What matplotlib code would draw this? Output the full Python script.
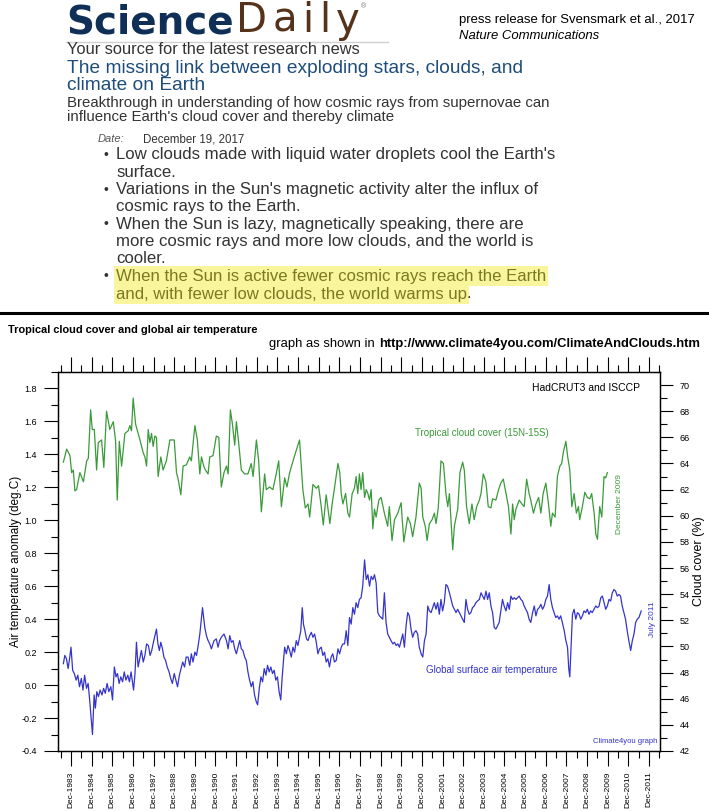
import numpy as np
import matplotlib.pyplot as plt
from matplotlib import font_manager

# tropical cloud cover 15N-15S (ISCCP), %
cloud_year = [
    1983.55, 1983.71, 1983.87, 1983.95, 1984.03, 1984.11, 1984.19, 1984.35, 1984.52, 1984.68,
    1984.76, 1984.87, 1984.95, 1985.05, 1985.16, 1985.24, 1985.40, 1985.51, 1985.64, 1985.80,
    1985.97, 1986.08, 1986.16, 1986.26, 1986.37, 1986.53, 1986.69, 1986.77, 1986.85, 1986.93,
    1987.05, 1987.26, 1987.42, 1987.50, 1987.58, 1987.66, 1987.74, 1987.82, 1987.90, 1987.98,
    1988.06, 1988.14, 1988.27, 1988.38, 1988.54, 1988.71, 1988.92, 1989.03, 1989.11, 1989.24,
    1989.35, 1989.51, 1989.67, 1989.75, 1989.92, 1990.04, 1990.16, 1990.24, 1990.35, 1990.43,
    1990.56, 1990.64, 1990.80, 1990.96, 1991.08, 1991.20, 1991.33, 1991.45, 1991.53, 1991.64,
    1991.74, 1991.85, 1991.93, 1992.04, 1992.17, 1992.33, 1992.49, 1992.65, 1992.74, 1992.90,
    1993.01, 1993.14, 1993.30, 1993.38, 1993.54, 1993.70, 1993.86, 1993.98, 1994.11, 1994.27,
    1994.38, 1994.51, 1994.62, 1994.83, 1994.99, 1995.15, 1995.27, 1995.40, 1995.48, 1995.64,
    1995.80, 1995.91, 1996.04, 1996.14, 1996.28, 1996.36, 1996.46, 1996.57, 1996.69, 1996.85,
    1996.94,
    1997.01, 1997.09, 1997.22, 1997.33, 1997.41, 1997.54, 1997.65, 1997.73, 1997.81, 1997.89,
    1997.97, 1998.05, 1998.14, 1998.22, 1998.30, 1998.38, 1998.46, 1998.54, 1998.62, 1998.70,
    1998.83, 1998.94, 1999.10, 1999.26, 1999.34, 1999.47, 1999.59, 1999.75, 1999.91, 2000.04,
    2000.23, 2000.36, 2000.47, 2000.63, 2000.79, 2000.88, 2000.96, 2001.08, 2001.17, 2001.28,
    2001.41, 2001.52, 2001.60, 2001.71, 2001.84, 2001.96, 2002.08, 2002.17, 2002.25, 2002.41,
    2002.49, 2002.65, 2002.76, 2002.89, 2002.97, 2003.08, 2003.21, 2003.34, 2003.45, 2003.57,
    2003.70, 2003.78, 2003.89, 2004.02, 2004.13, 2004.26, 2004.34, 2004.50, 2004.63, 2004.74,
    2004.86, 2004.99, 2005.11, 2005.23, 2005.31, 2005.39, 2005.47, 2005.63, 2005.76, 2005.87,
    2005.99, 2006.11, 2006.19, 2006.32, 2006.44, 2006.57, 2006.68, 2006.79, 2006.92, 2007.05,
    2007.16, 2007.24, 2007.37, 2007.48, 2007.60, 2007.69, 2007.76, 2007.89, 2007.98, 2008.08,
    2008.18, 2008.29, 2008.40, 2008.50, 2008.56, 2008.69, 2008.81, 2008.93, 2009.05, 2009.14,
    2009.26, 2009.34, 2009.42, 2009.53, 2009.63, 2009.74, 2009.82, 2009.90]
cloud_pct = [
    64.1, 65.1, 64.6, 63.3, 63.5, 61.9, 62.0, 63.3, 62.6, 64.2,
    64.4, 68.1, 66.6, 66.6, 63.5, 65.6, 65.8, 63.7, 68.0, 66.6,
    67.2, 65.7, 61.2, 65.7, 63.8, 66.3, 66.5, 66.9, 66.5, 69.0,
    67.0, 65.8, 64.8, 64.5, 63.8, 66.6, 65.6, 66.3, 65.3, 66.1,
    66.0, 63.0, 64.5, 63.5, 64.2, 65.8, 65.8, 63.3, 62.8, 61.6,
    63.8, 63.9, 64.5, 64.2, 66.9, 65.8, 63.2, 64.5, 63.8, 63.5,
    63.2, 64.5, 64.6, 66.1, 66.0, 62.2, 63.3, 63.8, 63.2, 68.1,
    67.0, 65.4, 67.2, 65.6, 63.5, 63.2, 63.2, 64.0, 63.0, 65.8,
    64.2, 60.3, 63.2, 62.0, 62.2, 62.0, 63.2, 64.2, 60.7, 62.9,
    62.2, 63.3, 63.9, 65.0, 65.8, 62.0, 60.6, 60.9, 59.9, 62.4,
    62.1, 62.3, 60.7, 59.3, 61.6, 60.6, 59.4, 60.9, 62.2, 64.0,
    63.3,
    61.7, 60.9, 61.7, 60.2, 59.9, 61.7, 62.1, 63.0, 61.7, 63.2,
    62.0, 63.3, 61.4, 62.0, 61.7, 61.2, 62.0, 59.0, 60.5, 59.9,
    61.2, 61.4, 60.2, 59.2, 60.7, 58.1, 59.7, 60.2, 61.0, 58.0,
    59.9, 59.4, 58.4, 59.9, 62.5, 62.1, 59.9, 59.2, 58.1, 59.4,
    59.7, 60.2, 59.4, 60.6, 64.2, 64.0, 61.7, 60.7, 61.7, 57.4,
    59.2, 60.5, 63.3, 64.1, 63.5, 60.7, 59.4, 60.9, 59.7, 60.7,
    61.2, 61.7, 63.2, 62.6, 60.7, 60.6, 61.3, 61.2, 62.0, 62.5,
    62.8, 61.7, 60.7, 58.6, 60.9, 59.7, 60.5, 61.2, 60.9, 60.7,
    62.8, 61.7, 61.2, 60.2, 60.9, 61.4, 60.2, 61.7, 62.5, 60.9,
    59.2, 60.2, 59.9, 63.0, 63.8, 64.0, 64.8, 65.7, 64.5, 63.5,
    60.7, 61.7, 60.2, 60.7, 59.7, 60.7, 61.8, 61.4, 61.3, 61.7,
    60.2, 58.6, 58.2, 60.7, 59.9, 63.0, 62.9, 63.3]

# global surface air temperature anomaly (HadCRUT3), deg C
temp_year = [
    1983.55, 1983.62, 1983.70, 1983.78, 1983.86, 1983.92, 1984.00, 1984.08, 1984.17, 1984.25,
    1984.33, 1984.42, 1984.50, 1984.58, 1984.67, 1984.75, 1984.83, 1984.96, 1985.04, 1985.10,
    1985.17, 1985.25, 1985.33, 1985.42, 1985.50, 1985.58, 1985.67, 1985.75, 1985.85, 1985.93,
    1986.02, 1986.10, 1986.17, 1986.25, 1986.33, 1986.42, 1986.50, 1986.58, 1986.67, 1986.75,
    1986.83, 1986.95, 1987.02, 1987.09, 1987.17, 1987.25, 1987.33, 1987.42, 1987.50, 1987.58,
    1987.67, 1987.75, 1987.83, 1987.93, 1988.06, 1988.13, 1988.20, 1988.27, 1988.35, 1988.42,
    1988.50, 1988.58, 1988.67, 1988.75, 1988.83, 1988.92, 1989.00, 1989.08, 1989.17, 1989.25,
    1989.33, 1989.42, 1989.50, 1989.59, 1989.67, 1989.75, 1989.83, 1989.92, 1990.00, 1990.08,
    1990.16, 1990.29, 1990.40, 1990.48, 1990.56, 1990.64, 1990.72, 1990.85, 1990.96, 1991.04,
    1991.12, 1991.20, 1991.33, 1991.45, 1991.53, 1991.61, 1991.69, 1991.77, 1991.85, 1991.93,
    1992.01, 1992.09, 1992.17, 1992.25, 1992.33, 1992.41, 1992.49, 1992.57, 1992.65, 1992.73,
    1992.81, 1992.89, 1992.96, 1993.04, 1993.12, 1993.20, 1993.28, 1993.36, 1993.44, 1993.52,
    1993.60, 1993.68, 1993.76, 1993.84, 1993.92, 1994.00, 1994.08, 1994.15, 1994.22, 1994.27,
    1994.35, 1994.43, 1994.51, 1994.59, 1994.67, 1994.75, 1994.83, 1994.91, 1994.99, 1995.05,
    1995.12, 1995.18, 1995.25, 1995.33, 1995.40, 1995.48, 1995.56, 1995.64, 1995.72, 1995.80,
    1995.88, 1995.96, 1996.04, 1996.12, 1996.20, 1996.28, 1996.36, 1996.44, 1996.52, 1996.60,
    1996.68, 1996.77, 1996.85, 1996.93, 1997.01, 1997.09, 1997.17, 1997.25, 1997.33, 1997.41,
    1997.49, 1997.57, 1997.65, 1997.73, 1997.81, 1997.89, 1997.97, 1998.05, 1998.14, 1998.22,
    1998.30, 1998.38, 1998.46, 1998.54, 1998.62, 1998.70, 1998.78, 1998.86, 1998.94, 1999.02,
    1999.10, 1999.18, 1999.26, 1999.34, 1999.42, 1999.51, 1999.59, 1999.67, 1999.75, 1999.83,
    1999.91, 1999.99, 2000.07, 2000.15, 2000.23, 2000.31, 2000.39, 2000.47, 2000.55, 2000.63,
    2000.71, 2000.79, 2000.88, 2000.96, 2001.04, 2001.12, 2001.20, 2001.28, 2001.36, 2001.44,
    2001.52, 2001.60, 2001.68, 2001.76, 2001.84, 2001.92, 2002.00, 2002.08, 2002.16, 2002.25,
    2002.33, 2002.41, 2002.49, 2002.57, 2002.65, 2002.73, 2002.81, 2002.89, 2002.97, 2003.05,
    2003.13, 2003.21, 2003.29, 2003.37, 2003.45, 2003.53, 2003.61, 2003.70, 2003.78, 2003.86,
    2003.94, 2004.02, 2004.10, 2004.18, 2004.26, 2004.34, 2004.42, 2004.50, 2004.58, 2004.66,
    2004.74, 2004.82, 2004.90, 2004.99, 2005.07, 2005.15, 2005.23, 2005.31, 2005.39, 2005.47,
    2005.55, 2005.63, 2005.71, 2005.79, 2005.87, 2005.95, 2006.03, 2006.11, 2006.19, 2006.28,
    2006.36, 2006.44, 2006.52, 2006.60, 2006.68, 2006.76, 2006.84, 2006.92, 2007.00, 2007.08,
    2007.16, 2007.24, 2007.32, 2007.40, 2007.48, 2007.56, 2007.64, 2007.72, 2007.81, 2007.89,
    2007.97, 2008.03, 2008.08, 2008.13, 2008.21, 2008.29, 2008.37, 2008.45, 2008.53, 2008.61,
    2008.69, 2008.77, 2008.85, 2008.93, 2009.01, 2009.09, 2009.17, 2009.25, 2009.34, 2009.42,
    2009.50, 2009.58, 2009.66, 2009.74, 2009.82, 2009.90, 2009.98, 2010.06, 2010.14, 2010.22,
    2010.30, 2010.38, 2010.46, 2010.54, 2010.62, 2010.70, 2010.78, 2010.86, 2010.94, 2011.03,
    2011.11, 2011.19, 2011.27, 2011.35, 2011.43, 2011.54]
temp_anom = [
    0.13, 0.18, 0.16, 0.10, 0.17, 0.23, 0.09, 0.07, 0.03, 0.06,
    -0.01, 0.04, -0.03, 0.06, -0.02, 0.01, -0.10, -0.30, -0.06, -0.14,
    -0.04, -0.07, -0.03, -0.06, -0.02, -0.05, 0.01, -0.04, -0.01, -0.09,
    0.11, 0.05, 0.07, 0.01, 0.05, 0.02, 0.08, 0.03, 0.06, 0.02,
    0.08, -0.03, 0.07, 0.26, 0.11, 0.16, 0.21, 0.14, 0.18, 0.25,
    0.24, 0.18, 0.21, 0.27, 0.34, 0.25, 0.21, 0.26, 0.22, 0.17,
    0.15, 0.11, 0.08, 0.04, 0.01, 0.07, 0.03, -0.01, 0.06, 0.10,
    0.14, 0.11, 0.17, 0.17, 0.12, 0.19, 0.14, 0.20, 0.18, 0.24,
    0.31, 0.47, 0.35, 0.30, 0.27, 0.25, 0.22, 0.27, 0.28, 0.23,
    0.27, 0.29, 0.31, 0.27, 0.22, 0.30, 0.26, 0.27, 0.22, 0.19,
    0.23, 0.27, 0.22, 0.21, 0.17, 0.15, 0.08, 0.03, -0.01, 0.02,
    -0.06, -0.10, -0.12, -0.02, 0.05, 0.02, 0.10, 0.06, 0.12, 0.08,
    0.11, 0.07, 0.09, 0.03, 0.05, -0.04, -0.09, 0.05, 0.16, 0.23,
    0.19, 0.24, 0.21, 0.17, 0.23, 0.20, 0.27, 0.24, 0.29, 0.33,
    0.47, 0.37, 0.33, 0.28, 0.27, 0.30, 0.32, 0.29, 0.31, 0.26,
    0.19, 0.22, 0.23, 0.18, 0.20, 0.14, 0.16, 0.11, 0.17, 0.19,
    0.14, 0.15, 0.22, 0.19, 0.23, 0.25, 0.25, 0.33, 0.24, 0.41,
    0.37, 0.47, 0.43, 0.50, 0.47, 0.52, 0.53, 0.60, 0.76, 0.64,
    0.67, 0.60, 0.66, 0.64, 0.67, 0.62, 0.44, 0.42, 0.41, 0.40,
    0.56, 0.38, 0.31, 0.29, 0.27, 0.25, 0.26, 0.24, 0.25, 0.23,
    0.27, 0.31, 0.23, 0.36, 0.44, 0.42, 0.34, 0.29, 0.32, 0.33,
    0.31, 0.23, 0.19, 0.17, 0.27, 0.31, 0.48, 0.45, 0.44, 0.47,
    0.50, 0.46, 0.50, 0.43, 0.52, 0.45, 0.50, 0.61, 0.60, 0.56,
    0.52, 0.48, 0.46, 0.44, 0.46, 0.44, 0.42, 0.40, 0.38, 0.52,
    0.46, 0.43, 0.44, 0.47, 0.48, 0.50, 0.51, 0.52, 0.56, 0.54,
    0.52, 0.57, 0.52, 0.56, 0.48, 0.44, 0.35, 0.34, 0.36, 0.38,
    0.45, 0.52, 0.48, 0.45, 0.50, 0.46, 0.54, 0.52, 0.53, 0.52,
    0.53, 0.54, 0.52, 0.51, 0.48, 0.46, 0.44, 0.40, 0.38, 0.44,
    0.48, 0.42, 0.46, 0.47, 0.49, 0.46, 0.48, 0.52, 0.54, 0.61,
    0.52, 0.47, 0.44, 0.41, 0.42, 0.40, 0.42, 0.38, 0.33, 0.27,
    0.23, 0.10, 0.05, 0.20, 0.43, 0.46, 0.40, 0.44, 0.43, 0.40,
    0.42, 0.45, 0.44, 0.46, 0.43, 0.45, 0.44, 0.46, 0.48, 0.47,
    0.48, 0.53, 0.54, 0.50, 0.46, 0.48, 0.52, 0.51, 0.56, 0.58,
    0.57, 0.54, 0.55, 0.54, 0.48, 0.44, 0.40, 0.33, 0.27, 0.21,
    0.27, 0.31, 0.38, 0.40, 0.41, 0.45]

tick_years = list(range(1983, 2012))
temp_ticks = [-0.4, -0.2, 0.0, 0.2, 0.4, 0.6, 0.8, 1.0, 1.2, 1.4, 1.6, 1.8]
cloud_ticks = list(range(42, 71, 2))

bullets = [
    ["Low clouds made with liquid water droplets cool the Earth's", "surface."],
    ["Variations in the Sun's magnetic activity alter the influx of", "cosmic rays to the Earth."],
    ["When the Sun is lazy, magnetically speaking, there are",
     "more cosmic rays and more low clouds, and the world is", "cooler."],
]
highlighted = ["When the Sun is active fewer cosmic rays reach the Earth",
               "and, with fewer low clouds, the world warms up"]

W, H = 709, 811
GREEN = '#3a9a3a'
BLUE = '#3434cc'

names = {f.name for f in font_manager.fontManager.ttflist}
SANS = ['Liberation Sans', 'DejaVu Sans']
if 'Liberation Sans Narrow' in names:
    NARROW, squeeze = ['Liberation Sans Narrow', 'Liberation Sans', 'DejaVu Sans'], 1.0
else:
    NARROW, squeeze = SANS, 0.82
plt.rcParams['font.family'] = SANS

fig = plt.figure(figsize=(W / 100, H / 100), dpi=100)

# page layer in pixel coordinates (y down)
bg = fig.add_axes([0, 0, 1, 1])
bg.set_xlim(0, W)
bg.set_ylim(H, 0)
bg.axis('off')

logo = dict(family=['DejaVu Sans'])
t = bg.text(66, 33, 'Science', fontsize=28, fontweight='bold', color='#0f2f57', va='baseline', **logo)
for i, ch in enumerate('Daily'):
    t = bg.annotate(ch, xy=(1, 0), xycoords=t, xytext=(1.5 if i == 0 else 4, 0),
                    textcoords='offset points', fontsize=29, color='#55331a',
                    ha='left', va='bottom', **logo)
bg.annotate('\u00ae', xy=(1, 1), xycoords=t, xytext=(1, -2), textcoords='offset points',
            fontsize=5, color='#777777', ha='left', va='top')
bg.plot([66, 388], [42, 42], color='#d0d0d0', lw=1)

bg.text(459, 20, 'press release for Svensmark et al., 2017', fontsize=11.5 * squeeze,
        family=NARROW, va='center')
bg.text(459, 36, 'Nature Communications', fontsize=11.5 * squeeze, family=NARROW,
        style='italic', va='center')

bg.text(67, 49, 'Your source for the latest research news', fontsize=11.8, color='#333333', va='center')
bg.text(67, 68.5, 'The missing link between exploding stars, clouds, and', fontsize=13.8,
        color='#1e4d7b', va='center')
bg.text(67, 85.5, 'climate on Earth', fontsize=13.8, color='#1e4d7b', va='center')
bg.text(67, 102.5, 'Breakthrough in understanding of how cosmic rays from supernovae can',
        fontsize=10.8, color='#333333', va='center')
bg.text(67, 116.5, "influence Earth's cloud cover and thereby climate", fontsize=10.8,
        color='#333333', va='center')
bg.text(98, 139, 'Date:', fontsize=8, style='italic', color='#555555', va='center')
bg.text(143, 139, 'December 19, 2017', fontsize=8.3, color='#333333', va='center')

y = 155
for item in bullets:
    bg.text(106, y, '\u2022', fontsize=10, color='#333333', ha='center', va='center')
    for line in item:
        bg.text(116, y, line, fontsize=12.1, color='#333333', va='center')
        y += 17.3

hl = dict(boxstyle='square,pad=0.12', fc='#f8f59c', ec='none')
bg.text(106, 276, '\u2022', fontsize=10, color='#333333', ha='center', va='center')
bg.text(116, 276, highlighted[0], fontsize=12.1, color='#7a7924', va='center', bbox=hl)
last = bg.text(116, 294, highlighted[1], fontsize=12.1, color='#7a7924', va='center', bbox=hl)
bg.annotate('.', xy=(1, 0), xycoords=last, fontsize=12.1, color='#333333', ha='left', va='bottom')

bg.axhline(313, color='black', lw=2.2)

bg.text(8, 330, 'Tropical cloud cover and global air temperature', fontsize=9.7 * squeeze,
        fontweight='bold', family=NARROW, va='center')
url = bg.text(700, 344, 'http://www.climate4you.com/ClimateAndClouds.htm', fontsize=11.4 * squeeze,
              fontweight='bold', family=NARROW, ha='right', va='center')
bg.annotate('graph as shown in', xy=(0, 0), xycoords=url, xytext=(-3, 0), textcoords='offset points',
            fontsize=11.4 * squeeze, family=NARROW, ha='right', va='bottom')

# chart
ax = fig.add_axes([58 / W, 1 - 751 / H, 602 / W, 379 / H])
ax2 = ax.twinx()
ax2.plot(cloud_year, cloud_pct, color=GREEN, lw=0.9)
ax.plot(temp_year, temp_anom, color=BLUE, lw=0.9)

ax.set_xlim(1983.29, 2012.45)
ax.set_ylim(-0.4, 1.9)
ax2.set_ylim(42, 71)

ax.set_xticks([yr + 11 / 12 for yr in tick_years], labels=['Dec-%d' % yr for yr in tick_years])
ax.set_xticks([yr + 5 / 12 for yr in tick_years + [2012]], minor=True)
ax.set_yticks(temp_ticks, labels=['%.1f' % v for v in temp_ticks])
ax.set_yticks(np.arange(-0.3, 1.95, 0.2), minor=True)
ax2.set_yticks(cloud_ticks, labels=[str(v) for v in cloud_ticks])
ax2.set_yticks(np.arange(43, 70, 2), minor=True)

ax.tick_params(axis='x', which='major', direction='out', length=10.8, width=0.8, top=True,
               bottom=True, labelsize=6, labelrotation=90, pad=4, labelfontfamily=NARROW)
ax.tick_params(axis='x', which='minor', direction='out', length=5, width=0.8, top=True, bottom=True)
ax.tick_params(axis='y', which='major', length=10, width=0.8, labelsize=6.5, pad=5)
ax.tick_params(axis='y', which='minor', length=5, width=0.8)
ax2.tick_params(axis='y', which='major', length=9.5, width=0.8, labelsize=6.5, pad=4.5)
ax2.tick_params(axis='y', which='minor', length=5, width=0.8)
for a in (ax, ax2):
    for s in a.spines.values():
        s.set_linewidth(0.9)

ax.set_ylabel('Air temperature anomaly (deg.C)', fontsize=8.5)
ax.yaxis.set_label_coords((22 - 58) / 602, 0.5)
ax2.set_ylabel('Cloud cover (%)', fontsize=9)
ax2.yaxis.set_label_coords((693 - 58) / 602, 0.5)

ax.text(2011.49, 1.80, 'HadCRUT3 and ISCCP', fontsize=7.5, ha='right', va='center')
ax.text(2003.83, 1.53, 'Tropical cloud cover (15N-15S)', fontsize=7, color=GREEN,
        ha='center', va='center')
ax.text(2004.29, 0.09, 'Global surface air temperature', fontsize=7, color=BLUE,
        ha='center', va='center')
ax.text(2010.47, 1.10, 'December 2009', fontsize=6, color=GREEN, rotation=90,
        ha='center', va='center')
ax.text(2012.07, 0.40, 'July 2011', fontsize=6, color=BLUE, rotation=90, ha='center', va='center')
ax.text(2012.31, -0.345, 'Climate4you graph', fontsize=5.5, color=BLUE, ha='right', va='center')

plt.savefig('out.png', dpi=100)
